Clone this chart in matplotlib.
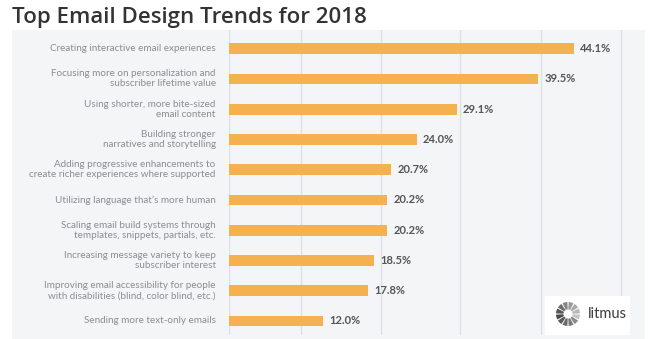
#!/usr/bin/env python3
"""Horizontal bar chart of top email design trends for 2018."""

import matplotlib
matplotlib.use("Agg")
import matplotlib.pyplot as plt
from matplotlib.patches import Rectangle, Wedge

categories = [
    "Creating interactive email experiences",
    "Focusing more on personalization and\nsubscriber lifetime value",
    "Using shorter, more bite-sized\nemail content",
    "Building stronger\nnarratives and storytelling",
    "Adding progressive enhancements to\ncreate richer experiences where supported",
    "Utilizing language that\u2019s more human",
    "Scaling email build systems through\ntemplates, snippets, partials, etc.",
    "Increasing message variety to keep\nsubscriber interest",
    "Improving email accessibility for people\nwith disabilities (blind, color blind, etc.)",
    "Sending more text-only emails",
]
percent = [44.1, 39.5, 29.1, 24.0, 20.7, 20.2, 20.2, 18.5, 17.8, 12.0]
grid_at = [9.2, 19.4, 29.6, 39.9, 50.1]

W, H = 650, 339
BAR = "#f5b150"
PANEL = "#f4f5f7"
GRID = "#dde0e5"

fig = plt.figure(figsize=(W / 100, H / 100), dpi=100)
fig.patch.set_facecolor("white")

# light panel behind labels and bars
fig.patches.append(Rectangle((12 / W, 0), (645 - 12) / W, (H - 30) / H,
                             transform=fig.transFigure, facecolor=PANEL,
                             edgecolor="none", zorder=-1))

fig.text(12 / W, (H - 18) / H, "Top Email Design Trends for 2018",
         fontsize=16, fontweight="semibold", family="Open Sans",
         color="#333333", va="center", ha="left")

ax_left, ax_right = 229, 645
ax_top, ax_bot = 30, 335
ax = fig.add_axes([ax_left / W, (H - ax_bot) / H,
                   (ax_right - ax_left) / W, (ax_bot - ax_top) / H])
ax.patch.set_alpha(0)
px_per_pct = 7.82
ax.set_xlim(0, (ax_right - ax_left) / px_per_pct)
step = 30.25
ax.set_ylim(9 + (ax_bot - 321) / step, -(48.7 - ax_top) / step)

ypos = list(range(len(categories)))
ax.axvline(0, color=GRID, linewidth=1, zorder=1)
for g in grid_at:
    ax.axvline(g, color=GRID, linewidth=1, zorder=1)

ax.barh(ypos, percent, height=0.355, color=BAR, zorder=2)
for y, v, label in zip(ypos, percent, categories):
    ax.text(v + 0.8, y, f"{v:.1f}%", va="center", ha="left",
            fontsize=8, fontweight="bold", color="#555555",
            family="Lato", zorder=3)
    ax.text(-1.7, y, label, va="center", ha="right", fontsize=7.15,
            color="#8a8d91", family="Lato", linespacing=1.15,
            clip_on=False)

for side in ax.spines.values():
    side.set_visible(False)
ax.set_xticks([])
ax.set_yticks([])

# litmus badge in the lower right corner
fig.patches.append(Rectangle((545 / W, (H - 335) / H), 85 / W, 39 / H,
                             transform=fig.transFigure, facecolor="white",
                             edgecolor="none", zorder=5))
logo = fig.add_axes([556 / W, (H - 326) / H, 24 / W, 24 / H], zorder=6)
logo.set_xlim(-1, 1)
logo.set_ylim(-1, 1)
logo.set_aspect("equal")
logo.axis("off")
shades = ["#9a9a9a", "#a9a9a9", "#b8b8b8", "#c4c4c4", "#8a8a8a", "#7a7a7a",
          "#6a6a6a", "#5a5a5a", "#4a4a4a", "#555555", "#6e6e6e", "#858585"]
n = len(shades)
for i, c in enumerate(shades):
    a0 = 90 - i * 360 / n
    logo.add_patch(Wedge((0, 0), 1.0, a0 - 360 / n + 3, a0 - 3,
                         width=0.62, facecolor=c, edgecolor="none"))
fig.text(588 / W, (H - 314) / H, "litmus", fontsize=10.5, color="#3c3c3c",
         family="Lato", va="center", ha="left", zorder=7)

fig.savefig("out.png", dpi=100)
